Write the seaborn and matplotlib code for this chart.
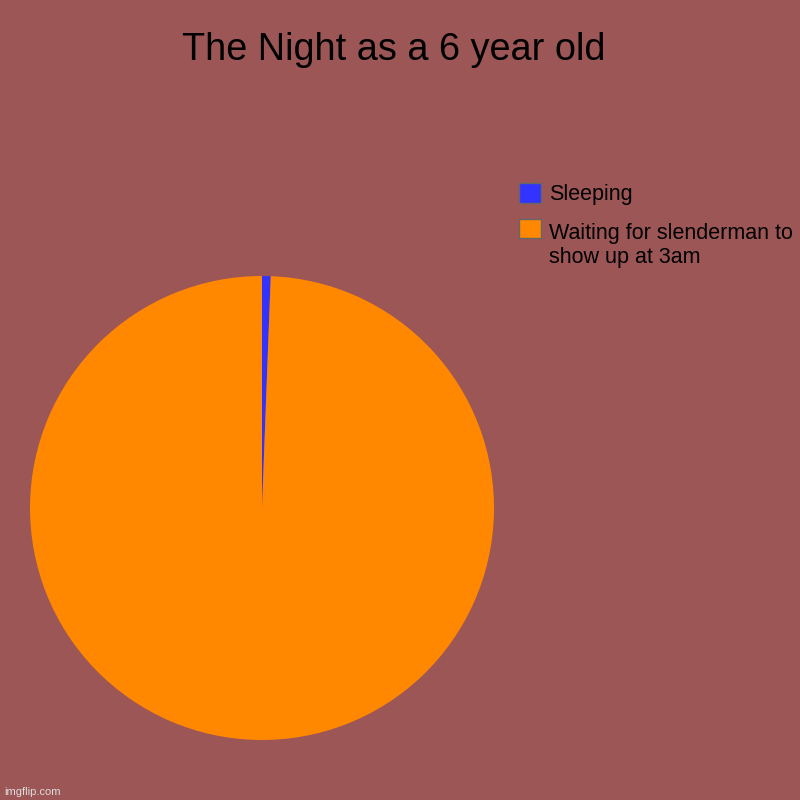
import seaborn as sns
import matplotlib.pyplot as plt
from matplotlib.legend_handler import HandlerPatch

# datos
labels = ['Sleeping', 'Waiting for slenderman to\nshow up at 3am']
values = [0.6, 99.4]
colors = ['#3333FF', '#FF8800']
title = 'The Night as a 6 year old'
bg = '#9C5656'

sns.set_theme(style='white')
plt.rcParams['font.family'] = ['Liberation Sans', 'DejaVu Sans']

fig = plt.figure(figsize=(8, 8), dpi=100, facecolor=bg)
ax = fig.add_axes([0.0375, 0.075, 0.58, 0.58])
ax.set_facecolor(bg)

wedges, _ = ax.pie(values, colors=colors, startangle=90, counterclock=False,
                   wedgeprops={'linewidth': 0})
ax.set_xlim(-1, 1)
ax.set_ylim(-1, 1)
ax.set_aspect('equal')

fig.text(0.4925, 0.938, title, ha='center', va='center', fontsize=27.3, color='black')


def cuadro_arriba(legend, orig_handle, xdescent, ydescent, width, height, fontsize):
    # sube el cuadrito a la altura de la primera linea del texto
    n_lineas = len(orig_handle.get_label().split('\n'))
    dy = (n_lineas - 1) * 0.83 * fontsize
    return plt.Rectangle((-xdescent, -ydescent + dy), width, height,
                         facecolor=orig_handle.get_facecolor(),
                         edgecolor='#666666', linewidth=1)


fs = 15.5
handles = [plt.Rectangle((0, 0), 1, 1, facecolor=c, edgecolor='#666666', linewidth=1, label=l)
           for c, l in zip(colors, labels)]
hmap = {h: HandlerPatch(patch_func=cuadro_arriba) for h in handles}
fig.legend(handles=handles, loc='upper left', bbox_to_anchor=(0.649, 0.771),
           frameon=False, fontsize=fs, handlelength=1.02, handleheight=1.02,
           handletextpad=0.35, borderaxespad=0, borderpad=0, labelspacing=0.83,
           labelcolor='black', handler_map=hmap)

fig.text(0.005, 0.004, 'imgflip.com', fontsize=8, color='#dddddd', ha='left', va='bottom')

fig.savefig('out.png', dpi=100, facecolor=bg)
